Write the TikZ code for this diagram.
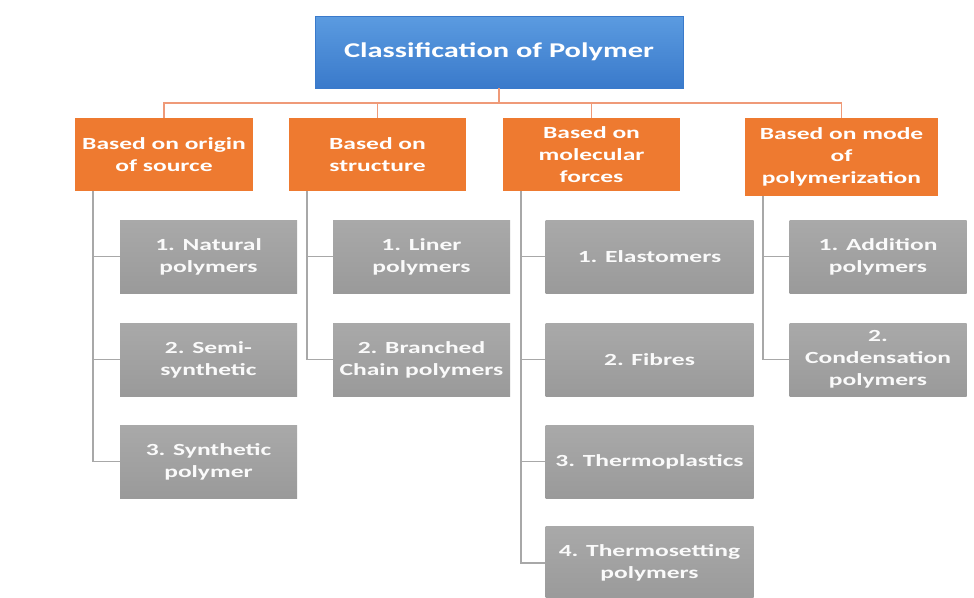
\documentclass[tikz,border=0pt]{standalone}
\usepackage{fontspec}
\setmainfont{Carlito}
\newfontfamily\widefont[FakeStretch=1.5]{Carlito}
\newfontfamily\titlefont[FakeStretch=1.45]{Carlito}
\begin{document}
\begin{tikzpicture}[
  base/.style={inner sep=2pt, align=center, text=white},
  tbox/.style={base, top color=tblue1, bottom color=tblue2, draw=tblue2, line width=0.4pt, minimum width=368pt, minimum height=72pt, font=\titlefont\bfseries\fontsize{21}{25}\selectfont},
  obox/.style={base, fill=oorange, minimum height=73pt, font=\widefont\bfseries\fontsize{17}{22}\selectfont},
  gbox/.style={base, top color=ggray1, bottom color=ggray2, minimum height=73pt, text=white!96!gray, font=\widefont\bfseries\fontsize{17}{22}\selectfont},
  oline/.style={draw=olinec, line width=1.6pt},
  gline/.style={draw=glinec, line width=1.6pt},
]
\definecolor{tblue1}{HTML}{5B9BE0}
\definecolor{tblue2}{HTML}{3A7ACB}
\definecolor{oorange}{HTML}{EE7A30}
\definecolor{olinec}{HTML}{EF9A78}
\definecolor{ggray1}{HTML}{A9A9A9}
\definecolor{ggray2}{HTML}{9A9A9A}
\definecolor{glinec}{HTML}{A8A8A8}
\useasboundingbox[fill=white] (0,0) rectangle (974pt,-597pt);

\node[tbox] (top) at (499pt,-52pt) {Classification of Polymer};

\node[obox, minimum width=178pt] (o1) at (164pt,-154.5pt) {Based on origin\\of source};
\node[obox, minimum width=177pt] (o2) at (377.5pt,-154.5pt) {Based on\\structure};
\node[obox, minimum width=177pt] (o3) at (591.5pt,-154.5pt) {Based on\\molecular\\forces};
\node[obox, minimum width=193pt, minimum height=78pt] (o4) at (841.5pt,-157pt) {Based on mode\\of\\polymerization};

\coordinate (bus) at (0,-103pt);
\draw[oline] (top.south) -- (top.south |- bus);
\draw[oline] (o1.north) -- (o1.north |- bus) -- (o4.north |- bus) -- (o4.north);
\draw[oline] (o2.north) -- (o2.north |- bus);
\draw[oline] (o3.north) -- (o3.north |- bus);

% column 1
\node[gbox, minimum width=177pt] (g11) at (208.5pt,-256.5pt) {1. Natural\\polymers};
\node[gbox, minimum width=177pt] (g12) at (208.5pt,-359.5pt) {2. Semi-\\synthetic};
\node[gbox, minimum width=177pt] (g13) at (208.5pt,-461.5pt) {3. Synthetic\\polymer};
% column 2
\node[gbox, minimum width=177pt] (g21) at (421.5pt,-256.5pt) {1. Liner\\polymers};
\node[gbox, minimum width=177pt] (g22) at (421.5pt,-359.5pt) {2. Branched\\Chain polymers};
% column 3
\node[gbox, minimum width=208pt] (g31) at (649.5pt,-256.5pt) {1. Elastomers};
\node[gbox, minimum width=208pt] (g32) at (649.5pt,-359.5pt) {2. Fibres};
\node[gbox, minimum width=208pt] (g33) at (649.5pt,-461.5pt) {3. Thermoplastics};
\node[gbox, minimum width=208pt] (g34) at (649.5pt,-563pt) {4. Thermosetting\\polymers};
% column 4
\node[gbox, minimum width=177pt] (g41) at (878pt,-256.5pt) {1. Addition\\polymers};
\node[gbox, minimum width=177pt] (g42) at (878pt,-359.5pt) {2.\\Condensation\\polymers};

\coordinate (v1) at (93pt,0);
\coordinate (v2) at (307pt,0);
\coordinate (v3) at (521pt,0);
\coordinate (v4) at (763pt,0);

\draw[gline] (v1 |- o1.south) |- (g13.west);
\draw[gline] (v1 |- g11.west) -- (g11.west);
\draw[gline] (v1 |- g12.west) -- (g12.west);

\draw[gline] (v2 |- o2.south) |- (g22.west);
\draw[gline] (v2 |- g21.west) -- (g21.west);

\draw[gline] (v3 |- o3.south) |- (g34.west);
\draw[gline] (v3 |- g31.west) -- (g31.west);
\draw[gline] (v3 |- g32.west) -- (g32.west);
\draw[gline] (v3 |- g33.west) -- (g33.west);

\draw[gline] (v4 |- o4.south) |- (g42.west);
\draw[gline] (v4 |- g41.west) -- (g41.west);
\end{tikzpicture}
\end{document}
